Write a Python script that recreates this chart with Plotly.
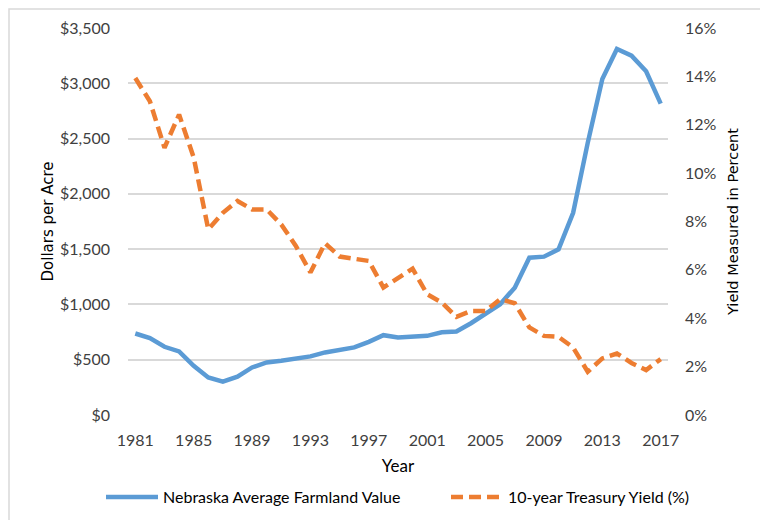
import plotly.graph_objects as go

years = list(range(1981, 2018))
farmland_value = [737, 695, 617, 575, 445, 340, 301, 346, 430, 475, 490, 512, 530, 566, 584, 611, 662, 722, 701, 707, 716,
                  748, 755, 830, 918, 1002, 1152, 1423, 1432, 1498, 1829, 2461, 3039, 3310, 3250, 3109, 2816]
treasury_yield = [13.93, 12.97, 11.05, 12.42, 10.65, 7.68, 8.36, 8.85, 8.5, 8.5, 7.88, 6.99, 5.89, 7.1, 6.55, 6.44, 6.37,
                  5.27, 5.64, 6.05, 4.99, 4.65, 4.06, 4.3, 4.3, 4.79, 4.62, 3.62, 3.27, 3.23, 2.79, 1.79, 2.34, 2.54,
                  2.15, 1.86, 2.31]
x_ticks = list(range(1981, 2018, 4))
left_ticks = list(range(0, 3501, 500))
right_ticks = list(range(0, 17, 2))

TICK_FAMILY = "Lato, Liberation Sans, sans-serif"
TITLE_FAMILY = "DejaVu Sans, Verdana, sans-serif"
tick_font = dict(family=TICK_FAMILY, size=16, color="#404040")
legend_font = dict(family=TICK_FAMILY, size=16, color="#000000")

# page is drawn with an 8px body margin, so the figure is 760x512 placed at (8, 8)
W, H = 760, 512
ML, MT, MR, MB = 120, 20, 100, 105
PW = W - ML - MR
PH = H - MT - MB

fig = go.Figure()
fig.add_trace(go.Scatter(x=years, y=farmland_value, mode="lines", name="Nebraska Average Farmland Value",
                         line=dict(color="#5B9BD5", width=4.5), legend="legend"))
fig.add_trace(go.Scatter(x=years, y=treasury_yield, mode="lines", name="10-year Treasury Yield (%)",
                         line=dict(color="#ED7D31", width=4.5, dash="12px,6px"), yaxis="y2", legend="legend2"))

leg_y = (PH - (489 - MT)) / PH

fig.update_layout(
    width=W, height=H,
    margin=dict(l=ML, r=MR, t=MT, b=MB, autoexpand=False),
    paper_bgcolor="white", plot_bgcolor="white",
    showlegend=True,
    legend=dict(orientation="h", x=(93 - ML) / PW, y=leg_y, xanchor="left", yanchor="middle",
                font=legend_font, itemwidth=52),
    legend2=dict(orientation="h", x=(438 - ML) / PW, y=leg_y, xanchor="left", yanchor="middle",
                 font=legend_font, itemwidth=52),
    xaxis=dict(range=[1980.5, 2017.5], tickvals=x_ticks, ticktext=[str(v) for v in x_ticks],
               showgrid=False, zeroline=False, showline=False, ticks="",
               tickfont=tick_font, ticklabelstandoff=14, automargin=False,
               title=dict(text="Year", font=dict(family=TICK_FAMILY, size=17, color="#000"),
                          standoff=12)),
    yaxis=dict(range=[0, 3500], tickvals=left_ticks, ticktext=[f"${v:,}" for v in left_ticks],
               showgrid=True, gridcolor="#D9D9D9", gridwidth=1.5, zeroline=False, showline=False, ticks="",
               tickfont=tick_font, ticklabelstandoff=17, automargin=False,
               title=dict(text="Dollars per Acre", font=dict(family=TITLE_FAMILY, size=15, color="#000"),
                          standoff=2)),
    yaxis2=dict(range=[0, 16], tickvals=right_ticks, ticktext=[f"{v}%" for v in right_ticks],
                overlaying="y", side="right", showgrid=False, zeroline=False, showline=False, ticks="",
                tickfont=tick_font, ticklabelstandoff=16, automargin=False,
                title=dict(text="Yield Measured in Percent", font=dict(family=TITLE_FAMILY, size=14.5, color="#000"),
                           standoff=12)),
    shapes=[dict(type="rect", xref="paper", yref="paper",
                 x0=(1 - ML) / PW, x1=(W + 50 - ML) / PW, y0=-1.0, y1=(PH + MT - 1) / PH,
                 line=dict(color="#D9D9D9", width=1.5), layer="below")],
)

fig.write_html("out.html")
